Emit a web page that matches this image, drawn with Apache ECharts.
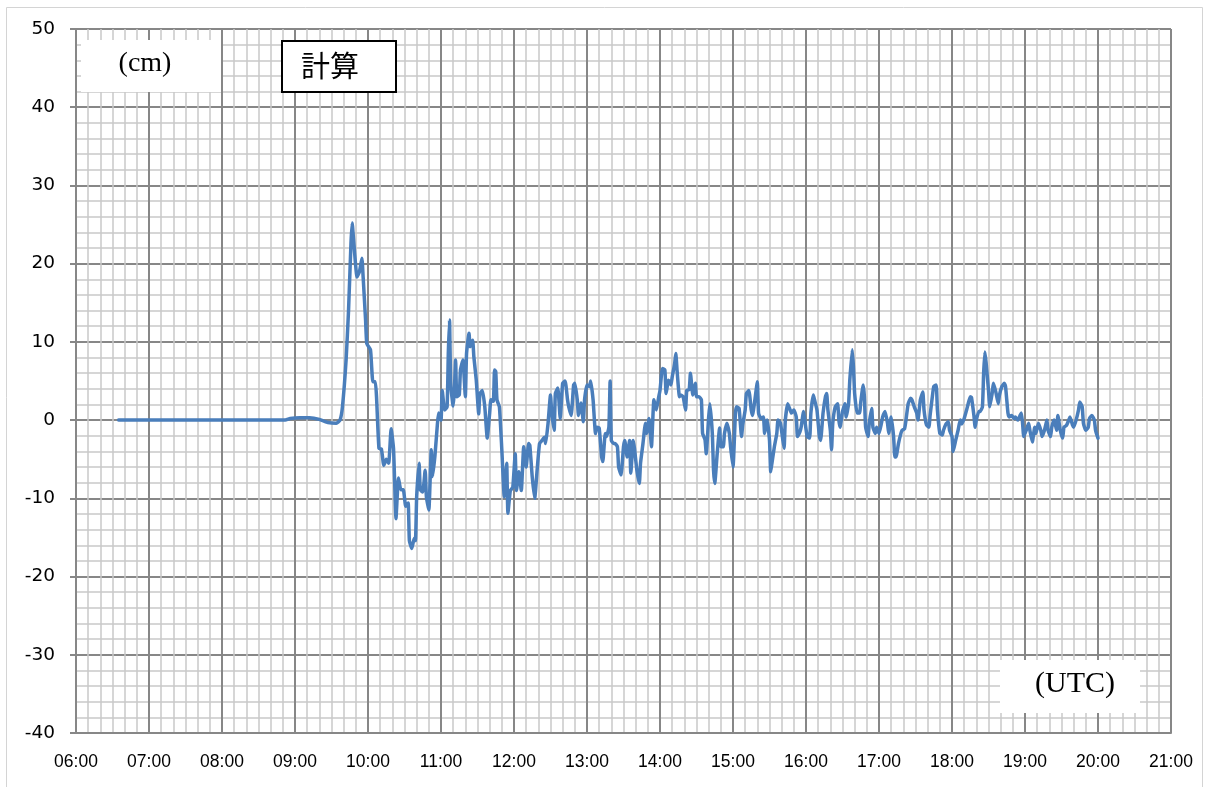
<!DOCTYPE html>
<html>
<head>
<meta charset="utf-8">
<script src="https://cdn.jsdelivr.net/npm/echarts@6/dist/echarts.min.js"></script>
<style>
  html, body { margin: 0; padding: 0; background: #ffffff; }
  #chart { width: 1205px; height: 787px; }
</style>
</head>
<body>
<div id="chart"></div>
<script>
// Computed sea level (cm) against UTC time
const times = [
  '06:35','08:52','08:56','09:04','09:12','09:20','09:27','09:34','09:37','09:39',
  '09:42','09:44','09:46','09:47','09:48','09:51','09:53','09:55','09:56','09:58',
  '09:59','10:02','10:03','10:04','10:06','10:07','10:09','10:11','10:13','10:15',
  '10:17','10:19','10:21','10:23','10:24','10:25','10:27','10:29','10:31','10:33',
  '10:34','10:36','10:38','10:39','10:40','10:42','10:43','10:45','10:47','10:48',
  '10:50','10:52','10:53','10:55','10:57','10:58','11:00','11:01','11:03','11:05',
  '11:06','11:07','11:08','11:10','11:11','11:12','11:13','11:15','11:16','11:18',
  '11:20','11:21','11:23','11:24','11:26','11:27','11:29','11:31','11:32','11:34',
  '11:36','11:38','11:40','11:41','11:43','11:44','11:45','11:46','11:48','11:50',
  '11:52','11:53','11:54','11:55','11:57','11:59','12:01','12:02','12:04','12:06',
  '12:08','12:10','12:12','12:13','12:15','12:17','12:19','12:21','12:23','12:25',
  '12:26','12:28','12:30','12:31','12:33','12:34','12:36','12:38','12:40','12:42',
  '12:44','12:45','12:47','12:49','12:50','12:52','12:53','12:55','12:57','12:58',
  '13:00','13:02','13:03','13:05','13:07','13:08','13:10','13:12','13:13','13:15',
  '13:16','13:18','13:19','13:20','13:22','13:23','13:25','13:26','13:28','13:30',
  '13:31','13:33','13:35','13:36','13:38','13:39','13:41','13:43','13:44','13:46',
  '13:48','13:49','13:51','13:53','13:54','13:55','13:57','13:59','14:00','14:02',
  '14:04','14:05','14:07','14:09','14:10','14:12','14:13','14:14','14:16','14:17',
  '14:19','14:21','14:22','14:24','14:25','14:27','14:29','14:30','14:32','14:34',
  '14:35','14:37','14:38','14:40','14:41','14:43','14:44','14:45','14:47','14:49',
  '14:50','14:52','14:53','14:55','14:57','14:58','15:00','15:02','15:03','15:05',
  '15:07','15:08','15:10','15:11','15:13','15:15','15:16','15:18','15:20','15:21',
  '15:23','15:25','15:26','15:28','15:30','15:31','15:32','15:34','15:36','15:37',
  '15:39','15:41','15:42','15:43','15:45','15:47','15:48','15:50','15:52','15:53',
  '15:55','15:56','15:58','15:59','16:01','16:03','16:04','16:06','16:07','16:09',
  '16:11','16:12','16:14','16:16','16:17','16:18','16:20','16:21','16:22','16:24',
  '16:26','16:27','16:28','16:30','16:32','16:33','16:35','16:36','16:38','16:39',
  '16:40','16:42','16:44','16:45','16:47','16:48','16:49','16:51','16:52','16:54',
  '16:55','16:57','16:58','17:00','17:02','17:03','17:05','17:07','17:08','17:10',
  '17:12','17:13','17:14','17:16','17:18','17:19','17:21','17:22','17:24','17:26',
  '17:27','17:29','17:31','17:32','17:34','17:36','17:37','17:39','17:41','17:42',
  '17:44','17:45','17:47','17:48','17:50','17:52','17:53','17:55','17:57','17:58',
  '18:00','18:01','18:03','18:05','18:06','18:07','18:08','18:10','18:12','18:13',
  '18:15','18:16','18:18','18:19','18:20','18:22','18:23','18:25','18:26','18:27',
  '18:28','18:30','18:31','18:33','18:34','18:36','18:38','18:39','18:41','18:43',
  '18:44','18:45','18:46','18:47','18:49','18:51','18:52','18:54','18:56','18:57',
  '18:58','18:59','19:01','19:03','19:04','19:06','19:08','19:09','19:11','19:13',
  '19:14','19:16','19:18','19:19','19:21','19:22','19:24','19:26','19:27','19:29',
  '19:31','19:32','19:34','19:36','19:37','19:39','19:40','19:42','19:44','19:45',
  '19:47','19:48','19:50','19:52','19:53','19:55','19:57','19:58','20:00'
];

const levels = [
  0, 0, 0.2, 0.3, 0.3, 0.1, -0.3, -0.4, 0, 1.7,
  7.7, 14, 22.6, 25.2, 23.4, 18.3, 19, 20.7, 18.3, 12.8,
  9.8, 9, 6.8, 4.9, 4.9, 3, -3.6, -3.7, -5.8, -5,
  -5.5, -1.1, -3.7, -12.6, -9.8, -7.4, -8.9, -8.9, -11, -10.6,
  -15.4, -16.4, -15.1, -15.4, -9.8, -5.5, -8.9, -9.2, -6.4, -9.8,
  -11.5, -3.8, -7.2, -4.6, -0.6, 0.9, 0, 3.8, 1.3, 1.7,
  8.5, 12.8, 4.5, 1.8, 3.8, 7.7, 3, 3.2, 6.4, 7.7,
  3, 8.5, 11.1, 9.4, 10.2, 8.1, 5.1, 0.8, 3.4, 3.8,
  1.7, -2.3, 0.9, 2.6, 2.4, 6.4, 6.2, 2.6, 1.7, -3.8,
  -9.8, -7.7, -5.5, -11.9, -9, -8.6, -4.3, -9, -6.6, -9,
  -3.4, -6, -3, -3.2, -7.3, -10, -6.4, -3, -2.6, -2.2,
  -3, -0.4, 3.2, 1, -1.3, 3.4, 4.1, 0.2, 4.7, 5,
  2.6, 1.7, 0.6, 4.5, 4.7, 2.6, 0.6, 2.2, -0.2, 2.6,
  4.5, 4.3, 5, 2.6, -1.7, -0.9, -1, -4.7, -5.3, -1.7,
  -2.1, -0.9, 5, -2.6, -3, -3, -3.4, -6, -7, -3.4,
  -2.6, -4.7, -2.6, -6.8, -2.6, -3.6, -6.4, -8.1, -5.5, -3,
  -0.4, -1.7, 0.2, -3.4, -0.2, 2.6, 1.3, 3, 3.8, 6.6,
  6.4, 3.4, 5.1, 4.5, 5.5, 7.2, 8.5, 6.4, 3, 3.2,
  3, 1.3, 3.8, 3.9, 6, 3.2, 4.7, 3, 3, 2.6,
  -1.7, -2.5, -4.3, 0.4, 2.1, -1.7, -6.4, -8.1, -4.3, -1,
  -3.4, -3.4, -1.7, -0.4, -1.7, -3.4, -6, 0.9, 1.7, 1.5,
  -2.1, -0.6, 1.3, 3.4, 3.8, 1.3, 0.6, 2.6, 4.9, 0.9,
  0.2, 0.4, -1.7, 0, -2.6, -6.6, -5.5, -3.4, -1.7, 0,
  -0.4, -2.6, -3.6, 0, 2.1, 1.3, 0.9, 1.3, 0.4, -2.1,
  -1.5, -0.9, 1.1, 0, -2.1, -2.3, 0.9, 3.2, 2.6, 1.3,
  -2.1, -2.6, 0.9, 3, 3.4, 1.3, -1.3, -3.8, -0.4, 1.7,
  2.1, 0, -0.9, 1.1, 2.1, 0.4, 2.1, 5.1, 9, 6.8,
  3.4, 0.9, 0.9, 2.3, 4.5, 3, -0.9, -2.1, -0.4, 1.5,
  -0.9, -1.7, -0.9, -1.7, -0.4, 0.4, 1.1, -0.4, -1.7, 0.4,
  -2.1, -4.7, -4.7, -3, -1.7, -1.3, -1.1, -0.2, 2.1, 2.8,
  2.6, 1.7, 0.9, 0, 2.6, 3.6, 1.3, -0.6, -0.9, 0.6,
  3.2, 4.3, 4.5, 1.3, -1.7, -1.9, -1.3, -0.5, -0.2, -1.3,
  -2.1, -4, -2.6, -1.3, -0.5, 0, -0.5, 0.2, 1.3, 1.9,
  3, 2.9, 0.6, -0.9, 0, 1.1, 1.1, 1.7, 6, 8.7,
  7.4, 3.8, 1.7, 3.4, 4.7, 3.6, 2.1, 3.2, 4.3, 4.7,
  4.3, 2.6, 0.9, 0.4, 0.6, 0.2, 0.4, 0, 0.6, 0.9,
  -0.4, -2.1, -1.3, -0.4, -1.3, -2.8, -0.9, -1.7, -0.4, -1.3,
  -2.1, -1.3, 0, -1.3, -2.1, -0.9, 0, -1.3, 0.6, -1.3,
  -2.3, -0.9, -0.7, 0, 0.4, -0.6, -0.9, 0, 1.3, 2.3,
  1.7, -0.4, -1.3, -0.9, 0.2, 0.6, 0, -1.3, -2.3
];

// Axis ranges (minutes after 00:00 UTC on x, cm on y)
const timeRange = ['06:00', '21:00'];
const levelRange = [-40, 50];

const toMinutes = s => {
  const p = s.split(':');
  return Number(p[0]) * 60 + Number(p[1]);
};
const pad = n => (n < 10 ? '0' : '') + n;
const fmtTime = v => pad(Math.floor(v / 60)) + ':' + pad(Math.round(v % 60));

const seriesData = times.map((t, i) => [toMinutes(t), levels[i]]);

const majorColor = '#878787';
const minorColor = '#c9c9c9';

const chart = echarts.init(document.getElementById('chart'), null, { renderer: 'canvas' });

chart.setOption({
  animation: false,
  backgroundColor: '#ffffff',
  grid: { left: 76, right: 34, top: 29, bottom: 54, containLabel: false },
  xAxis: {
    type: 'value',
    min: toMinutes(timeRange[0]),
    max: toMinutes(timeRange[1]),
    interval: 60,
    axisLine: { show: true, onZero: false, lineStyle: { color: majorColor, width: 2 } },
    axisTick: { show: false },
    axisLabel: {
      formatter: fmtTime,
      fontFamily: 'Liberation Sans',
      fontSize: 17.5,
      color: '#000000',
      margin: 20,
      showMinLabel: true,
      showMaxLabel: true
    },
    splitLine: { show: true, lineStyle: { color: majorColor, width: 2 } },
    minorTick: { show: false, splitNumber: 6 },
    minorSplitLine: { show: true, lineStyle: { color: minorColor, width: 1.5 } }
  },
  yAxis: {
    type: 'value',
    min: levelRange[0],
    max: levelRange[1],
    interval: 10,
    axisLine: { show: true, onZero: false, lineStyle: { color: majorColor, width: 2 } },
    axisTick: { show: true, length: 6, lineStyle: { color: majorColor, width: 2 } },
    axisLabel: {
      fontFamily: 'DejaVu Sans',
      fontSize: 18.5,
      color: '#000000',
      margin: 21
    },
    splitLine: { show: true, lineStyle: { color: majorColor, width: 2 } },
    minorTick: { show: false, splitNumber: 5 },
    minorSplitLine: { show: true, lineStyle: { color: minorColor, width: 1.5 } }
  },
  series: [{
    type: 'line',
    data: seriesData,
    showSymbol: false,
    symbol: 'none',
    smooth: 0.15,
    z: 5,
    lineStyle: { color: '#4a7ebb', width: 3.5, join: 'round', cap: 'round' }
  }],
  graphic: [
    {
      type: 'rect', z: 0, silent: true,
      shape: { x: 6.5, y: 7.5, width: 1196, height: 800 },
      style: { fill: 'none', stroke: '#d4d4d4', lineWidth: 1 }
    },
    {
      type: 'rect', z: 20, silent: true,
      shape: { x: 81, y: 40, width: 140, height: 52 },
      style: { fill: '#ffffff', stroke: 'none' }
    },
    {
      type: 'text', z: 21, silent: true,
      x: 145, y: 64,
      style: {
        text: '(cm)', fill: '#000000',
        font: '28px "Liberation Serif"',
        align: 'center', verticalAlign: 'middle'
      }
    },
    {
      type: 'rect', z: 20, silent: true,
      shape: { x: 282, y: 41, width: 114, height: 51 },
      style: { fill: '#ffffff', stroke: '#000000', lineWidth: 2 }
    },
    {
      type: 'text', z: 21, silent: true,
      x: 330, y: 66,
      style: {
        text: '計算', fill: '#000000',
        font: '29px "Noto Sans CJK JP"',
        align: 'center', verticalAlign: 'middle'
      }
    },
    {
      type: 'rect', z: 20, silent: true,
      shape: { x: 1000, y: 660, width: 140, height: 53 },
      style: { fill: '#ffffff', stroke: 'none' }
    },
    {
      type: 'text', z: 21, silent: true,
      x: 1075, y: 684,
      style: {
        text: '(UTC)', fill: '#000000',
        font: '30px "Liberation Serif"',
        align: 'center', verticalAlign: 'middle'
      }
    }
  ]
});
</script>
</body>
</html>
